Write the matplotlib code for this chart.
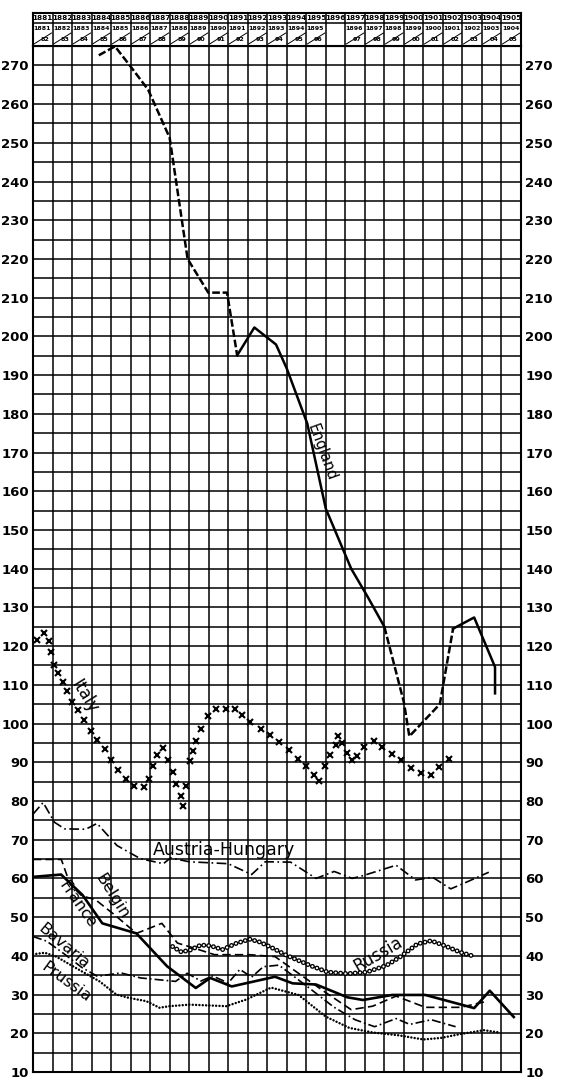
import numpy as np
import matplotlib
matplotlib.use('Agg')
import matplotlib.pyplot as plt

plt.rcParams['lines.scale_dashes'] = False
plt.rcParams['font.family'] = ['DejaVu Sans']

# column labels of the header (calendar years / fiscal years)
years = ['1881', '1882', '1883', '1884', '1885', '1886', '1887', '1888', '1889',
         '1890', '1891', '1892', '1893', '1894', '1895', '1896', '1897', '1898',
         '1899', '1900', '1901', '1902', '1903', '1904', '1905']
fiscal_a = ['1881', '1882', '1883', '1884', '1885', '1886', '1887', '1888', '1889',
            '1890', '1891', '1892', '1893', '1894', '1895', '', '1896', '1897',
            '1898', '1899', '1900', '1901', '1902', '1903', '1904']
fiscal_b = ['82', '83', '84', '85', '86', '87', '88', '89', '90', '91', '92', '93',
            '94', '95', '96', '', '97', '98', '99', '00', '01', '02', '03', '04', '05']

# series, x in column units (0 = left edge of 1881 column)
england_x = [3.37, 4.2, 5.0, 5.9, 7.0, 7.92, 8.98, 9.94, 10.46, 11.34, 12.45, 13.0,
             14.05, 15.0, 16.3, 17.16, 18.0, 19.0, 19.28, 20.84, 21.52, 22.6, 23.67, 23.67]
england_y = [272.6, 274.9, 269.7, 263.7, 251.3, 220.0, 211.3, 211.3, 195.1, 202.3, 197.9,
             191.7, 177.5, 155.5, 140.0, 132.6, 125.0, 105.5, 96.7, 105.0, 124.5, 127.4,
             114.6, 107.8]

italy_x = [0.2, 0.55, 0.8, 0.92, 1.08, 1.3, 1.54, 1.73, 1.99, 2.28, 2.62, 2.96, 3.3, 3.7,
           3.99, 4.38, 4.76, 5.19, 5.7, 5.92, 6.13, 6.34, 6.64, 6.9, 7.16, 7.33, 7.59,
           7.71, 7.84, 8.05, 8.18, 8.36, 8.61, 8.96, 9.38, 9.9, 10.33, 10.72, 11.13, 11.7,
           12.12, 12.6, 13.13, 13.59, 14.0, 14.38, 14.65, 14.97, 15.24, 15.52, 15.6,
           15.85, 16.07, 16.35, 16.62, 16.95, 17.45, 17.88, 18.37, 18.83, 19.38, 19.9,
           20.4, 20.82, 21.32]
italy_y = [121.7, 123.4, 121.4, 118.5, 115.1, 113.0, 110.8, 108.3, 105.5, 103.4, 100.9,
           98.0, 95.7, 93.3, 90.6, 88.0, 85.8, 83.8, 83.5, 85.8, 89.1, 91.8, 93.8, 90.6,
           87.4, 84.4, 81.4, 78.6, 83.9, 90.2, 92.9, 95.5, 98.5, 101.9, 103.8, 103.8,
           103.8, 102.3, 100.3, 98.5, 97.0, 95.2, 93.1, 90.9, 89.0, 86.8, 85.1, 89.1,
           92.0, 94.4, 96.8, 95.0, 92.4, 90.7, 91.5, 93.9, 95.6, 93.9, 92.2, 90.7, 88.5,
           87.3, 86.8, 88.8, 90.9]

austria_x = [0, 0.52, 1.1, 1.62, 2.7, 3.28, 4.3, 5.5, 6.68, 7.05, 8.0, 10.0, 11.2, 11.9,
             13.2, 14.5, 15.43, 16.35, 16.9, 18.6, 19.6, 20.47, 21.4, 22.1, 23.35]
austria_y = [76.6, 79.6, 74.5, 72.8, 72.7, 74.2, 68.5, 65.1, 63.8, 65.3, 64.3, 63.8,
             61.0, 64.3, 64.2, 60.0, 61.8, 60.0, 60.7, 63.4, 59.6, 60.3, 57.3, 58.8, 61.6]

belgium_x = [0, 1.45, 1.9, 2.5, 3.2, 4.2, 5.3, 6.6, 7.4, 8.25, 9.3, 11.1, 12.4, 13.6,
             15.0, 16.3, 17.4, 18.6, 20.1, 21.9, 23.3]
belgium_y = [64.9, 64.9, 58.5, 55.5, 54.5, 50.5, 45.8, 48.4, 43.3, 42.0, 40.3, 40.3,
             39.8, 35.5, 30.5, 26.1, 27.0, 29.6, 26.7, 26.7, 28.3]

france_x = [0, 1.44, 2.54, 3.55, 5.3, 6.87, 8.34, 9.08, 10.18, 12.4, 13.3, 14.5, 16.1,
            16.9, 18.4, 20.1, 22.6, 23.4, 24.63]
france_y = [60.4, 61.0, 55.7, 48.4, 45.8, 37.3, 31.7, 34.3, 32.1, 34.6, 32.9, 32.6, 29.3,
            28.6, 29.9, 29.9, 26.5, 31.0, 24.2]

bavaria_x = [0, 0.7, 1.6, 2.5, 3.3, 4.5, 5.5, 7.3, 7.9, 8.6, 9.2, 10.0, 10.6, 11.2, 11.8,
             12.6, 14.2, 15.4, 16.5, 17.5, 18.6, 19.3, 20.4, 21.65]
bavaria_y = [45.0, 43.8, 40.5, 37.0, 34.7, 35.6, 34.3, 33.4, 35.5, 33.5, 34.8, 33.0, 36.5,
             34.5, 37.2, 37.6, 31.5, 26.8, 23.5, 21.7, 23.8, 22.3, 23.5, 21.7]

prussia_x = [0, 0.6, 1.19, 2.22, 3.41, 4.27, 4.95, 5.8, 6.48, 7.0, 8.02, 9.9, 10.92,
             12.2, 13.6, 15.0, 16.2, 17.4, 18.7, 20.0, 20.9, 21.9, 23.1, 23.9]
prussia_y = [40.4, 40.8, 39.8, 36.8, 33.4, 30.0, 29.1, 28.3, 26.6, 27.0, 27.4, 27.0, 28.7,
             31.8, 29.9, 24.3, 21.4, 20.2, 19.5, 18.4, 18.8, 19.8, 20.8, 20.2]

russia_x = [7.15, 7.6, 8.05, 8.6, 9.1, 9.7, 10.4, 11.1, 11.6, 12.2, 13.0, 14.2, 15.1,
            16.1, 17.1, 18.1, 18.8, 19.7, 20.4, 21.1, 21.9, 22.45]
russia_y = [42.4, 41.0, 41.5, 42.8, 42.6, 41.6, 43.2, 44.3, 43.6, 42.2, 40.1, 37.5, 35.8,
            35.4, 35.8, 37.5, 39.7, 43.1, 43.9, 42.6, 40.9, 40.1]

W, H = 561, 1086
fig = plt.figure(figsize=(W / 100, H / 100), dpi=100)
fig.patch.set_facecolor('white')

# main grid
ax = fig.add_axes([33 / W, (H - 1072) / H, 488 / W, 1026 / H])
ax.set_xlim(0, 25)
ax.set_ylim(10, 275)
ax.set_xticks(np.arange(0, 26))
ax.set_yticks(np.arange(10, 271, 10))
ax.set_yticks(np.arange(15, 276, 10), minor=True)
ax.grid(which='both', color='black', lw=1.1)
ax.set_axisbelow(True)
ax.tick_params(which='both', length=0, labelbottom=False, labelleft=True,
               labelright=True, pad=3)
ax.set_yticklabels([str(v) for v in range(10, 271, 10)], fontweight='bold', fontsize=9.5)
for s in ax.spines.values():
    s.set_linewidth(1.5)

# England: dashed / solid pieces
ls_dash = (0, (5.5, 2))
ax.plot(england_x[0:9], england_y[0:9], color='black', lw=1.8, ls=ls_dash)
ax.plot(england_x[8:17], england_y[8:17], color='black', lw=1.8)
ax.plot(england_x[16:21], england_y[16:21], color='black', lw=1.8, ls=ls_dash)
ax.plot(england_x[20:], england_y[20:], color='black', lw=1.8)

ax.plot(italy_x, italy_y, ls='none', marker='x', color='black', ms=5, mew=1.5)

ax.plot(austria_x, austria_y, color='black', lw=1.2, ls=(0, (7, 2.5, 1.2, 2.5)))
ax.plot(belgium_x, belgium_y, color='black', lw=1.2, ls=(0, (6, 3)))
ax.plot(france_x, france_y, color='black', lw=1.9)
ax.plot(bavaria_x, bavaria_y, color='black', lw=1.2, ls=(0, (6.5, 2.2, 1.2, 2.2)))
ax.plot(prussia_x, prussia_y, color='black', lw=1.8, ls=(0, (0.01, 2.4)),
        dash_capstyle='round')
# Russia: chain of little rings
ax.plot(russia_x, russia_y, color='black', lw=3.6, ls=(0, (0.01, 3.5)),
        dash_capstyle='round')
ax.plot(russia_x, russia_y, color='white', lw=1.7, ls=(0, (0.01, 3.5)),
        dash_capstyle='round')

lbl = dict(color='black', ha='center', va='center', rotation_mode='anchor')
ax.text(14.8, 170, 'England', fontsize=10.5, rotation=-70, **lbl)
ax.text(2.65, 107, 'Italy', fontsize=12, rotation=-58, **lbl)
ax.text(9.77, 67.3, 'Austria-Hungary', fontsize=12.5, **lbl)
ax.text(4.05, 55.3, 'Belgin', fontsize=11.5, rotation=-58, **lbl)
ax.text(2.3, 53.2, 'France', fontsize=11.5, rotation=-55, **lbl)
ax.text(1.6, 42.5, 'Bavaria', fontsize=11.5, rotation=-40, **lbl)
ax.text(1.7, 33.3, 'Prussia', fontsize=11.5, rotation=-36, **lbl)
ax.text(17.67, 40.3, 'Russia', fontsize=12, rotation=30, **lbl)

# header with the years
hx = fig.add_axes([33 / W, (H - 46) / H, 488 / W, 33 / H])
hx.set_xlim(0, 25)
hx.set_ylim(33, 0)
hx.set_xticks(np.arange(0, 26))
hx.set_yticks([10])
hx.grid(which='both', color='black', lw=1.1)
hx.tick_params(length=0, labelbottom=False, labelleft=False)
for s in hx.spines.values():
    s.set_linewidth(1.5)
for i in range(25):
    hx.text(i + 0.5, 5.3, years[i], fontsize=5.2, fontweight='bold',
            ha='center', va='center')
    if fiscal_a[i]:
        hx.text(i + 0.47, 15, fiscal_a[i], fontsize=4.5, fontweight='bold',
                ha='center', va='center')
        hx.text(i + 0.62, 26.5, fiscal_b[i], fontsize=4.6, fontweight='bold',
                ha='center', va='center')
        hx.plot([i + 0.05, i + 0.95], [31, 20], color='black', lw=0.7)

fig.savefig('out.png', dpi=100, facecolor='white')
